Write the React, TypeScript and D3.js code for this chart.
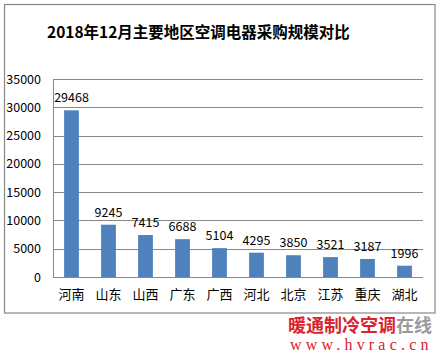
import React from "react";
import * as d3 from "d3";

const title = "2018年12月主要地区空调电器采购规模对比";
const regions = ["河南", "山东", "山西", "广东", "广西", "河北", "北京", "江苏", "重庆", "湖北"];
const values = [29468, 9245, 7415, 6688, 5104, 4295, 3850, 3521, 3187, 1996];
const yTicks = [0, 5000, 10000, 15000, 20000, 25000, 30000, 35000];
const brandRed = "暖通制冷空调";
const brandGray = "在线";
const brandUrl = "www.hvrac.cn";

export default function App() {
  const W = 441, H = 357;
  const left = 53, right = 423, top = 79, bottom = 277;
  const x = d3.scaleBand<string>().domain(regions).range([left, right]).paddingInner(0.6).paddingOuter(0.3);
  const y = d3.scaleLinear().domain([0, 35000]).range([bottom, top]);
  const font = "'Noto Sans CJK SC', 'Liberation Sans', sans-serif";
  return (
    <svg width={W} height={H} style={{ position: "absolute", left: 0, top: 0, background: "#fff" }}>
      <rect x={0} y={0} width={W} height={H} fill="#fff" />
      <rect x={4.5} y={4.5} width={430.5} height={308.5} fill="none" stroke="#888" strokeWidth={1.2} />
      <text x={47} y={38} fontFamily={font} fontWeight="bold" fontSize={15.5} fill="#000">{title}</text>
      {yTicks.map((t) => (
        <g key={t}>
          {t > 0 && <line x1={left} x2={right} y1={Math.round(y(t)) + 0.5} y2={Math.round(y(t)) + 0.5} stroke="#888" strokeWidth={1} />}
          <text x={41} y={y(t) + 4.5} textAnchor="end" fontFamily={font} fontSize={12.5} fill="#000">{t}</text>
        </g>
      ))}
      <line x1={left + 0.5} x2={left + 0.5} y1={top} y2={bottom} stroke="#888" />
      {regions.map((r, i) => (
        <g key={r}>
          <rect x={x(r)!} y={y(values[i])} width={x.bandwidth()} height={bottom - y(values[i])} fill="#4F81BD" />
          <text x={x(r)! + x.bandwidth() / 2} y={y(values[i]) - 8} textAnchor="middle" fontFamily={font} fontSize={12.5} fill="#000">{values[i]}</text>
          <text x={x(r)! + x.bandwidth() / 2} y={299} textAnchor="middle" fontFamily={font} fontSize={13} fill="#000">{r}</text>
        </g>
      ))}
      <line x1={left} x2={right} y1={bottom + 0.5} y2={bottom + 0.5} stroke="#888" />
      <rect x={284} y={314} width={157} height={43} fill="#fff" />
      <text x={288} y={332} fontFamily={font} fontWeight="bold" fontSize={18} >
        <tspan fill="#d9232e">{brandRed}</tspan>
        <tspan fill="#9a9a9a">{brandGray}</tspan>
      </text>
      <text x={290} y={350} fontFamily="'Liberation Serif', serif" fontSize={16} letterSpacing={4.2} fill="#d9232e">{brandUrl}</text>
    </svg>
  );
}
